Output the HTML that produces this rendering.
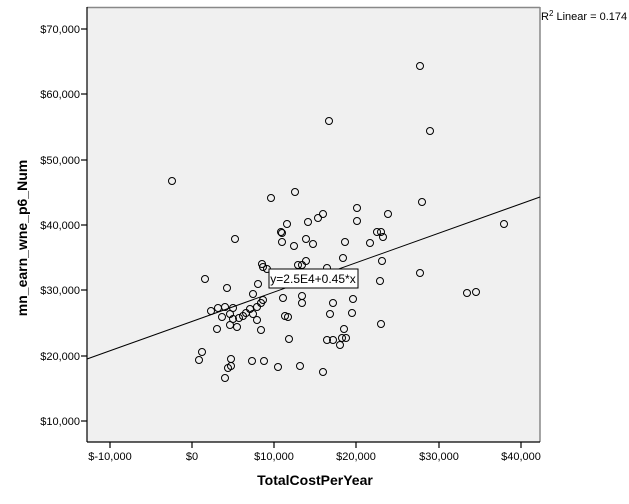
<!DOCTYPE html>
<html><head><meta charset="utf-8"><style>
body{margin:0;background:#fff;}
svg{display:block;font-family:"Liberation Sans",Arial,sans-serif;}
</style></head><body>
<svg width="629" height="504" viewBox="0 0 629 504">
<rect x="87" y="7" width="453" height="435" fill="#f0f0f0"/>
<line x1="87" y1="7.5" x2="540" y2="7.5" stroke="#888" stroke-width="1.5"/>
<line x1="540" y1="7" x2="540" y2="442" stroke="#888" stroke-width="1.5"/>
<line x1="87" y1="7" x2="87" y2="442" stroke="#000" stroke-width="1.2"/>
<line x1="87" y1="442" x2="540" y2="442" stroke="#000" stroke-width="1.2"/>
<g stroke="#000" stroke-width="1.2">
<line x1="81" y1="29" x2="87" y2="29"/><line x1="81" y1="94" x2="87" y2="94"/><line x1="81" y1="160" x2="87" y2="160"/><line x1="81" y1="225" x2="87" y2="225"/><line x1="81" y1="290" x2="87" y2="290"/><line x1="81" y1="356" x2="87" y2="356"/><line x1="81" y1="421" x2="87" y2="421"/>
<line x1="110" y1="442" x2="110" y2="448"/><line x1="192" y1="442" x2="192" y2="448"/><line x1="274" y1="442" x2="274" y2="448"/><line x1="356" y1="442" x2="356" y2="448"/><line x1="439" y1="442" x2="439" y2="448"/><line x1="521" y1="442" x2="521" y2="448"/>
</g>
<g font-size="11" fill="#000" text-anchor="end">
<text x="80" y="33">$70,000</text><text x="80" y="98">$60,000</text><text x="80" y="164">$50,000</text><text x="80" y="229">$40,000</text><text x="80" y="294">$30,000</text><text x="80" y="360">$20,000</text><text x="80" y="425">$10,000</text>
</g>
<g font-size="11" fill="#000" text-anchor="middle">
<text x="110" y="460">$-10,000</text><text x="192" y="460">$0</text><text x="274" y="460">$10,000</text><text x="356" y="460">$20,000</text><text x="439" y="460">$30,000</text><text x="521" y="460">$40,000</text>
</g>
<text x="315" y="485" font-size="14" font-weight="bold" text-anchor="middle">TotalCostPerYear</text>
<text transform="translate(27,238) rotate(-90)" font-size="14" font-weight="bold" text-anchor="middle">mn_earn_wne_p6_Num</text>
<text x="541" y="20" font-size="11">R<tspan font-size="8" dy="-4">2</tspan><tspan dy="4"> Linear = 0.174</tspan></text>
<line x1="87" y1="359" x2="540" y2="197" stroke="#000" stroke-width="1"/>
<g fill="none" stroke="#000" stroke-width="1">
<circle cx="172" cy="181" r="3.5"/><circle cx="271" cy="198" r="3.5"/><circle cx="295" cy="192" r="3.5"/><circle cx="235" cy="239" r="3.5"/><circle cx="323" cy="214" r="3.5"/><circle cx="318" cy="218" r="3.5"/><circle cx="308" cy="222" r="3.5"/><circle cx="287" cy="224" r="3.5"/><circle cx="281" cy="232" r="3.5"/><circle cx="282" cy="233" r="3.5"/><circle cx="282" cy="242" r="3.5"/><circle cx="294" cy="246" r="3.5"/><circle cx="306" cy="239" r="3.5"/><circle cx="313" cy="244" r="3.5"/><circle cx="357" cy="208" r="3.5"/><circle cx="357" cy="221" r="3.5"/><circle cx="345" cy="242" r="3.5"/><circle cx="343" cy="258" r="3.5"/><circle cx="306" cy="261" r="3.5"/><circle cx="298" cy="265" r="3.5"/><circle cx="302" cy="265" r="3.5"/><circle cx="327" cy="268" r="3.5"/><circle cx="262" cy="264" r="3.5"/><circle cx="263" cy="267" r="3.5"/><circle cx="267" cy="269" r="3.5"/><circle cx="205" cy="279" r="3.5"/><circle cx="227" cy="288" r="3.5"/><circle cx="258" cy="284" r="3.5"/><circle cx="253" cy="294" r="3.5"/><circle cx="283" cy="298" r="3.5"/><circle cx="302" cy="296" r="3.5"/><circle cx="302" cy="303" r="3.5"/><circle cx="333" cy="303" r="3.5"/><circle cx="353" cy="299" r="3.5"/><circle cx="330" cy="314" r="3.5"/><circle cx="352" cy="313" r="3.5"/><circle cx="263" cy="300" r="3.5"/><circle cx="261" cy="303" r="3.5"/><circle cx="257" cy="307" r="3.5"/><circle cx="250" cy="309" r="3.5"/><circle cx="253" cy="314" r="3.5"/><circle cx="246" cy="313" r="3.5"/><circle cx="243" cy="316" r="3.5"/><circle cx="239" cy="318" r="3.5"/><circle cx="233" cy="308" r="3.5"/><circle cx="225" cy="307" r="3.5"/><circle cx="218" cy="308" r="3.5"/><circle cx="211" cy="311" r="3.5"/><circle cx="222" cy="317" r="3.5"/><circle cx="230" cy="314" r="3.5"/><circle cx="233" cy="319" r="3.5"/><circle cx="230" cy="325" r="3.5"/><circle cx="237" cy="327" r="3.5"/><circle cx="257" cy="320" r="3.5"/><circle cx="217" cy="329" r="3.5"/><circle cx="261" cy="330" r="3.5"/><circle cx="285" cy="316" r="3.5"/><circle cx="288" cy="317" r="3.5"/><circle cx="289" cy="339" r="3.5"/><circle cx="327" cy="340" r="3.5"/><circle cx="333" cy="340" r="3.5"/><circle cx="340" cy="345" r="3.5"/><circle cx="342" cy="338" r="3.5"/><circle cx="346" cy="338" r="3.5"/><circle cx="344" cy="329" r="3.5"/><circle cx="202" cy="352" r="3.5"/><circle cx="199" cy="360" r="3.5"/><circle cx="231" cy="359" r="3.5"/><circle cx="231" cy="366" r="3.5"/><circle cx="228" cy="368" r="3.5"/><circle cx="225" cy="378" r="3.5"/><circle cx="252" cy="361" r="3.5"/><circle cx="264" cy="361" r="3.5"/><circle cx="278" cy="367" r="3.5"/><circle cx="300" cy="366" r="3.5"/><circle cx="323" cy="372" r="3.5"/>
<circle cx="422" cy="202" r="3.5"/><circle cx="388" cy="214" r="3.5"/><circle cx="377" cy="232" r="3.5"/><circle cx="381" cy="232" r="3.5"/><circle cx="383" cy="237" r="3.5"/><circle cx="370" cy="243" r="3.5"/><circle cx="382" cy="261" r="3.5"/><circle cx="420" cy="273" r="3.5"/><circle cx="380" cy="281" r="3.5"/><circle cx="467" cy="293" r="3.5"/><circle cx="476" cy="292" r="3.5"/><circle cx="381" cy="324" r="3.5"/>
<circle cx="420" cy="66" r="3.5"/><circle cx="329" cy="121" r="3.5"/><circle cx="430" cy="131" r="3.5"/><circle cx="504" cy="224" r="3.5"/>
</g>
<rect x="269" y="269" width="89" height="19" fill="#fff" stroke="#000" stroke-width="1"/>
<text x="313" y="283" font-size="12" text-anchor="middle">y=2.5E4+0.45*x</text>
</svg>
</body></html>
